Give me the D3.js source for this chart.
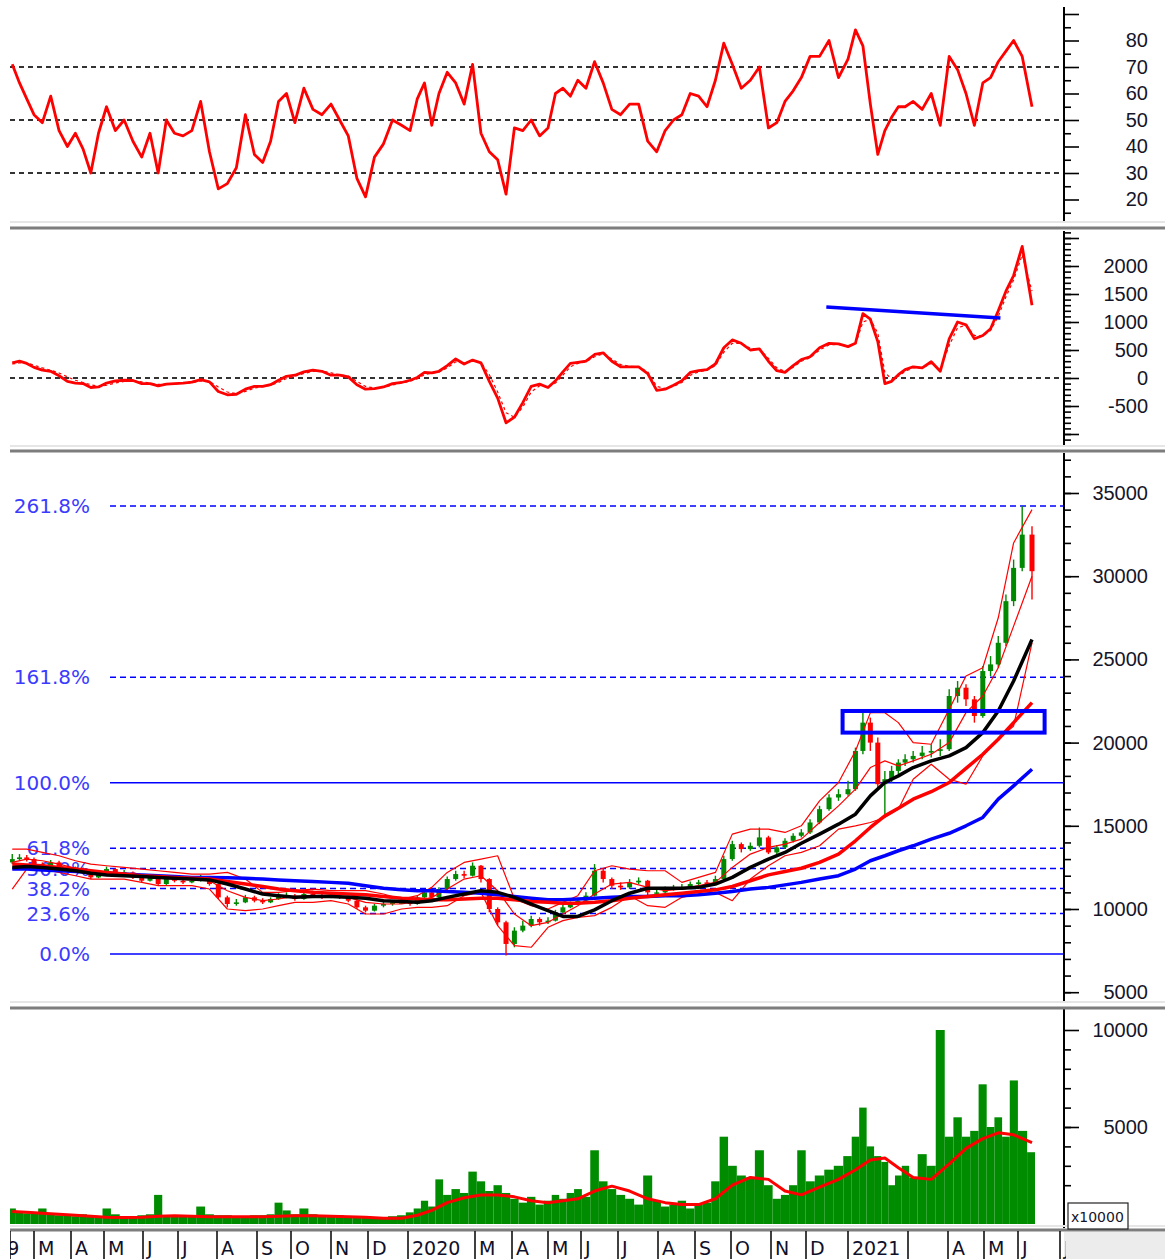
<!DOCTYPE html>
<html lang="vi">
<head>
  <meta charset="UTF-8">
  <title>RSI - MACD - Giá - Khối lượng</title>
  <script src="https://d3js.org/d3.v7.min.js"></script>
  <style>
    body { margin: 0; background: #fff; }
    svg { display: block; font-family: "DejaVu Sans", Arial, sans-serif; }
  </style>
</head>
<body>
  <div id="chart"></div>
  <script>
    // Số liệu theo tuần (thứ Sáu), từ 08/02/2019 đến 11/06/2021
    const rsi = [
      71, 64, 58, 52, 49, 59, 46, 40, 45, 39, 30, 45, 55, 46, 50, 42, 36, 45, 30, 50, 45, 44, 46, 57, 38,
      24, 26, 32, 52, 37, 34, 42, 57, 60, 49, 62, 54, 52, 56, 50, 44, 28, 21, 36, 41, 50, 48,
      // 2020
      46, 58, 64, 48, 60, 68, 64, 56, 71, 45, 38, 35, 22, 47, 46, 50, 44, 47, 60, 62, 59, 65, 62, 72, 64, 54,
      52, 56, 56, 42, 38, 46, 50, 52, 60, 59, 55, 65, 79, 71, 62, 65, 70, 47, 49, 57, 61, 66, 74, 74, 80, 66,
      // 2021
      73, 84, 78, 56, 37, 46, 51, 55, 55, 57, 54, 60, 48, 74, 69, 60, 48, 64, 66, 72, 76, 80, 74, 55
    ];
    const macd = [
      270, 300, 260, 190, 140, 120, 40, -60, -90, -100, -170, -160, -90, -50, -40, -45, -100, -100, -140, -110,
      -100, -90, -75, -30, -70, -240, -300, -290, -200, -150, -150, -120, -40, 30, 50, 110, 140, 120, 50, 50,
      20, -120, -200, -190, -160, -100, -80,
      // 2020
      -40, 10, 100, 90, 120, 220, 340, 250, 320, 270, -60, -360, -800, -700, -440, -150, -110, -170, -50, 110,
      260, 280, 300, 420, 450, 300, 200, 200, 200, 80, -220, -200, -130, -50, 100, 130, 150, 250, 540, 680,
      620, 500, 520, 300, 130, 100, 220, 330, 380, 540, 620, 610,
      // 2021
      560, 620, 1150, 1050, 650, -100, -60, 60, 150, 200, 180, 290, 120, 700, 1000, 950, 700, 760, 880, 1200,
      1550, 1830, 2350, 1300
    ];
    const macdSignal = [
      250, 270, 270, 230, 180, 140, 90, 20, -40, -80, -120, -150, -130, -90, -60, -50, -70, -90, -115, -115,
      -105, -95, -85, -55, -60, -160, -250, -280, -240, -180, -155, -130, -80, -10, 30, 80, 120, 125, 90, 60,
      35, -60, -150, -180, -170, -125, -90,
      // 2020
      -60, -15, 60, 85, 110, 180, 290, 270, 300, 280, 60, -250, -620, -700, -520, -250, -140, -160, -90, 50,
      200, 260, 290, 380, 430, 340, 240, 210, 200, 110, -150, -190, -150, -80, 50, 110, 140, 220, 460, 620,
      620, 530, 520, 350, 180, 120, 190, 300, 360, 500, 590, 600,
      // 2021
      570, 600, 1000, 1050, 800, 100, -20, 30, 120, 180, 180, 260, 160, 580, 900, 940, 760, 750, 850, 1100,
      1450, 1750, 2200, 1550
    ];
    const firstOpen = 12800;
    const closeP = [
      13000, 13100, 13000, 12700, 12500, 12800, 12500, 12300, 12400, 12200, 11900, 12200, 12400, 12100, 12200,
      11900, 11700, 11900, 11500, 11900, 11700, 11600, 11700, 11900, 11500, 10700, 10300, 10400, 10700, 10500,
      10400, 10600, 10800, 10800, 10600, 10900, 10800, 10700, 10800, 10700, 10500, 10100, 9900, 10200, 10300,
      10400, 10400,
      // 2020
      10300, 10700, 11000, 10700, 11200, 11800, 12100, 12000, 12600, 11800, 10000, 9200, 7900, 8700, 9000,
      9400, 9200, 9300, 9800, 10100, 10300, 10500, 10800, 12300, 11800, 11400, 11300, 11600, 11700, 11000,
      11000, 11200, 11300, 11300, 11500, 11600, 11500, 11800, 13000, 13900, 13600, 13800, 14300, 13400, 13700,
      14100, 14400, 14600, 15200, 16000, 16700, 16900,
      // 2021
      17200, 19500, 21200, 20000, 17500, 17800, 18300, 18800, 19000, 19200, 19400, 19500, 19600, 22800, 23300,
      22600, 21600, 24300, 24700, 26000, 28500, 30500, 32500, 30300
    ];
    const highP = [
      13300, 13300, 13250, 13100, 12800, 12950, 12900, 12600, 12550, 12500, 12300, 12300, 12550, 12450, 12350,
      12250, 12000, 12050, 12000, 12000, 12000, 11850, 11850, 12050, 11950, 11550, 10800, 10600, 10850, 10800,
      10650, 10700, 10950, 11000, 10900, 11050, 11100, 10900, 11000, 10950, 10800, 10600, 10200, 10300, 10450,
      10500, 10550,
      // 2020
      10500, 10800, 11150, 11100, 11300, 11950, 12300, 12300, 12800, 12650, 11850, 10100, 9300, 8900, 9300,
      9600, 9500, 9500, 9950, 10250, 10450, 10650, 11000, 12700, 12400, 11900, 11600, 11800, 11900, 11750,
      11200, 11350, 11450, 11500, 11650, 11750, 11750, 12000, 13200, 14100, 14000, 14000, 14900, 14400, 13850,
      14250, 14550, 14800, 15400, 16200, 16900, 17200,
      // 2021
      17700, 19700, 21800, 21500, 20300, 18300, 18600, 19000, 19300, 19500, 19800, 19900, 20200, 23200, 23700,
      23500, 22800, 24600, 25200, 26400, 28900, 31000, 34200, 33000
    ];
    const lowP = [
      12700, 12900, 12850, 12600, 12400, 12400, 12400, 12200, 12200, 12100, 11800, 11850, 12100, 12000, 12000,
      11800, 11600, 11650, 11400, 11450, 11600, 11500, 11550, 11650, 11400, 10600, 10100, 10200, 10350, 10400,
      10300, 10350, 10550, 10650, 10500, 10550, 10700, 10600, 10650, 10600, 10400, 10000, 9800, 9850, 10100,
      10200, 10300,
      // 2020
      10200, 10250, 10600, 10600, 10650, 11100, 11700, 11850, 11950, 11600, 9800, 9000, 7200, 7700, 8600,
      8900, 9000, 9100, 9250, 9750, 10050, 10250, 10450, 10750, 11600, 11200, 11150, 11200, 11500, 10800,
      10700, 10900, 11100, 11150, 11250, 11400, 11350, 11450, 11750, 12900, 13400, 13500, 13700, 13300, 13300,
      13600, 14000, 14300, 14500, 15100, 15900, 16500,
      // 2021
      16800, 17100, 19300, 19500, 17200, 15700, 17600, 18100, 18600, 18800, 19000, 19100, 19200, 19500, 22400,
      22200, 21200, 21500, 24000, 24500, 25800, 28200, 30300, 28600
    ];
    // khối lượng (x10000)
    const volume = [
      800, 650, 550, 600, 800, 500, 450, 450, 400, 500, 450, 400, 800, 500, 400, 400, 450, 500, 1500, 450,
      400, 400, 450, 900, 500, 450, 450, 400, 400, 450, 450, 500, 1100, 700, 500, 800, 500, 400, 450, 450,
      400, 400, 350, 350, 350, 400, 450,
      // 2020
      600, 800, 1200, 900, 2300, 1500, 1800, 1600, 2700, 2200, 1700, 2000, 1600, 1300, 1100, 1400, 1000, 1200,
      1500, 1300, 1600, 1800, 1400, 3800, 2200, 1800, 1500, 1300, 1000, 2500, 1200, 900, 1000, 1200, 800, 1000,
      1100, 2200, 4500, 3000, 2500, 2400, 3800, 2000, 1300, 1500, 2000, 3800, 2200, 2500, 2800, 3000,
      // 2021
      3500, 4500, 6000, 4000, 3500, 3200, 2000, 2500, 3000, 2400, 3600, 3000, 10000, 4500, 5500, 4500, 4800,
      7200, 5000, 5500, 4500, 7400, 4800, 3700
    ];

    // Các đường trung bình / dải, mỗi 2 tuần
    const bbUpper = [
      13600, 13600, 13400, 13200, 12900, 12700, 12600, 12500, 12400, 12300, 12200, 12100, 12100, 12200, 11800,
      11000, 11000, 11100, 11200, 11100, 11100, 11100, 10900, 10600, 10800, 11300, 12200, 12800, 13000, 13200,
      10600, 10200, 10000, 10400, 10800, 12300, 12600, 12400, 12300, 12300, 11600, 11900, 12200, 14500, 14800,
      14800, 14600, 15000, 16500, 17600, 19500, 21800, 21800, 21200, 20000, 19900, 22000, 24000, 24500, 27500,
      32000, 34000
    ];
    const bbMid = [
      12800, 13000, 12900, 12700, 12450, 12250, 12200, 12150, 12000, 11900, 11800, 11750, 11700, 11100, 10700,
      10500, 10600, 10750, 10800, 10800, 10700, 10400, 10300, 10300, 10450, 10700, 11200, 11800, 12000, 11100,
      9700, 9000, 9200, 9700, 10200, 10900, 11500, 11600, 11300, 11100, 11200, 11400, 11600, 12500, 13300,
      13700, 13900, 14200, 15200, 16200, 17200, 18500, 18900, 18600, 18900, 19300, 20000, 21800, 22800, 24500,
      27000, 30000
    ];
    const bbLower = [
      11200, 12400, 12400, 12200, 12000, 11800, 11800, 11800, 11600, 11400, 11400, 11400, 11200, 10000, 9900,
      10000, 10200, 10400, 10400, 10500, 10300, 9700, 9700, 10000, 10100, 10100, 10200, 10800, 11000, 9000,
      7800, 7700, 8900, 9300, 9500, 9600, 10100, 10800, 10200, 10100, 10700, 10900, 11000, 10500, 11800,
      12600, 13200, 13400, 13800, 14800, 15000, 15200, 15500, 16000, 17800, 18700, 17800, 17500, 19200, 20200,
      21000, 26000
    ];
    const maBlack = [
      12500, 12550, 12500, 12400, 12300, 12150, 12050, 12000, 11950, 11900, 11850, 11800, 11750, 11500, 11200,
      10900, 10800, 10700, 10750, 10750, 10700, 10650, 10500, 10450, 10400, 10500, 10700, 10900, 11100, 11000,
      10700, 10300, 9900, 9550, 9550, 9950, 10500, 10950, 11250, 11250, 11250, 11300, 11500, 11900, 12500,
      13000, 13400, 13950, 14500, 15100, 15700, 16800, 17600, 18000, 18500, 18900, 19200, 19700, 20600, 21900,
      23700, 26200
    ];
    const maRed = [
      12700, 12650, 12600, 12500, 12400, 12300, 12200, 12100, 12000, 11950, 11900, 11850, 11800, 11650, 11500,
      11350, 11200, 11100, 11000, 10950, 10900, 10850, 10750, 10650, 10600, 10550, 10550, 10600, 10650, 10650,
      10550, 10450, 10400, 10350, 10350, 10400, 10500, 10650, 10750, 10850, 10950, 11050, 11150, 11350, 11700,
      12050, 12250, 12450, 12800, 13300, 14100, 14900, 15600, 16050, 16600, 17050, 17600, 18450, 19300, 20200,
      21200, 22400
    ];
    const maBlue = [
      12400, 12400, 12350, 12300, 12250, 12200, 12150, 12100, 12050, 12000, 11950, 11900, 11900, 11880, 11850,
      11800, 11750, 11700, 11650, 11600, 11550, 11400, 11250, 11150, 11100, 11100, 11050, 11000, 10950, 10850,
      10750, 10650, 10550, 10550, 10600, 10650, 10700, 10750, 10750, 10800, 10800, 10850, 10950, 11050, 11200,
      11300, 11450, 11600, 11800, 12000, 12400, 12900, 13200, 13500, 13800, 14200, 14550, 15000, 15500, 16600,
      17400, 18400
    ];
    const volMA = [
      650, 600, 550, 500, 450, 400, 350, 330, 350, 400, 420, 400, 380, 380, 380, 380, 400, 420, 420, 400,
      380, 350, 300, 300, 450, 700, 1100, 1350, 1500, 1500, 1400, 1200, 1100, 1200, 1300, 1700, 1950, 1700,
      1300, 1100, 1000, 1000, 1300, 2000, 2400, 2300, 1700, 1500, 1900, 2300, 2800, 3300, 3400, 2900, 2400,
      2300, 3100, 3900, 4400, 4700, 4600, 4200
    ];

    const rsiLevels = [70, 50, 30];
    const fibLevels = [0, 23.6, 38.2, 50, 61.8, 100, 161.8, 261.8];
    const fibLow = 7300, fibHigh = 17580;
    const macdTrend = [["2020-12-16", 1270], ["2021-05-16", 1070]];
    const zone = {from: "2020-12-28", to: "2021-06-20", top: 21900, bottom: 20600};

    const monthTicks = [
      ["2019-01-01", "2019"], ["2019-03-01", "M"], ["2019-04-01", "A"], ["2019-05-01", "M"], ["2019-06-01", "J"],
      ["2019-07-01", "J"], ["2019-08-01", "A"], ["2019-09-01", "S"], ["2019-10-01", "O"], ["2019-11-01", "N"],
      ["2019-12-01", "D"], ["2020-01-01", "2020"], ["2020-03-01", "M"], ["2020-04-01", "A"], ["2020-05-01", "M"],
      ["2020-06-01", "J"], ["2020-07-01", "J"], ["2020-08-01", "A"], ["2020-09-01", "S"], ["2020-10-01", "O"],
      ["2020-11-01", "N"], ["2020-12-01", "D"], ["2021-01-01", "2021"], ["2021-03-01", ""], ["2021-04-01", "A"],
      ["2021-05-01", "M"], ["2021-06-01", "J"], ["2021-07-01", "J"]
    ];

    // ---- bố cục ----
    const W = 1165, H = 1259;
    const axisX = 1064, plotLeft = 10;
    const parse = d3.timeParse("%Y-%m-%d");

    // trục thời gian theo ngày giao dịch: mỗi tháng có độ rộng khác nhau
    const monthStarts = [
      "2019-01-01", "2019-02-01", "2019-03-01", "2019-04-01", "2019-05-01", "2019-06-01", "2019-07-01",
      "2019-08-01", "2019-09-01", "2019-10-01", "2019-11-01", "2019-12-01", "2020-01-01", "2020-02-01",
      "2020-03-01", "2020-04-01", "2020-05-01", "2020-06-01", "2020-07-01", "2020-08-01", "2020-09-01",
      "2020-10-01", "2020-11-01", "2020-12-01", "2021-01-01", "2021-02-01", "2021-03-01", "2021-04-01",
      "2021-05-01", "2021-06-01", "2021-07-01"
    ];
    const monthPx = [-33, 5, 34, 71, 104, 143, 178, 217, 257, 291, 331, 368, 408, 440, 475, 512, 548, 581,
                     618, 658, 695, 731, 771, 806, 848, 881, 908, 948, 984, 1018, 1060];
    const x = d3.scaleTime().domain(monthStarts.map(parse)).range(monthPx);

    const weeks = rsi.map((d, i) => d3.timeDay.offset(new Date(2019, 1, 8), 7 * i));
    const biweeks = weeks.filter((d, i) => i % 2 === 0);

    const yRsi = d3.scaleLinear().domain([50, 70]).range([120, 67]);
    const yMacd = d3.scaleLinear().domain([0, 2000]).range([378, 266]);
    const yPrice = d3.scaleLinear().domain([10000, 35000]).range([909, 493]);
    const yVol = d3.scaleLinear().domain([0, 10000]).range([1224, 1030]);

    const svg = d3.select("#chart").append("svg")
      .attr("width", W).attr("height", H)
      .style("background", "#fff");
    const defs = svg.append("defs");

    function panel(id, top, bottom) {
      defs.append("clipPath").attr("id", id).append("rect")
        .attr("x", plotLeft).attr("y", top)
        .attr("width", axisX - plotLeft).attr("height", bottom - top);
      return svg.append("g").attr("clip-path", `url(#${id})`);
    }

    function rightAxis(y, majors, labels, minors, top, bottom) {
      const g = svg.append("g").attr("transform", `translate(${axisX},0)`);
      g.append("line").attr("y1", top).attr("y2", bottom)
        .attr("stroke", "#000").attr("stroke-width", 2);
      g.append("g")
        .call(d3.axisRight(y).tickValues(minors).tickSize(7).tickFormat(""))
        .call(a => a.select(".domain").remove());
      g.append("g")
        .call(d3.axisRight(y).tickValues(majors).tickSize(15)
          .tickFormat(d => labels.includes(d) ? String(d) : ""))
        .call(a => a.select(".domain").remove())
        .call(a => a.selectAll("text")
          .attr("x", 84).attr("text-anchor", "end")
          .style("font-size", "20px").style("fill", "#15152a"));
      g.selectAll(".tick line").attr("stroke", "#000").attr("stroke-width", 1.6);
    }

    function levelLine(g, yv, color, width, dash) {
      g.append("line")
        .attr("x1", plotLeft).attr("x2", axisX).attr("y1", yv).attr("y2", yv)
        .attr("stroke", color).attr("stroke-width", width)
        .attr("stroke-dasharray", dash);
    }

    function series(g, values, dates, y, color, width, dash) {
      g.append("path")
        .datum(values)
        .attr("fill", "none")
        .attr("stroke", color)
        .attr("stroke-width", width)
        .attr("stroke-linejoin", "round")
        .attr("stroke-dasharray", dash || null)
        .attr("d", d3.line().x((d, i) => x(dates[i])).y(d => y(d)));
    }

    // ---- RSI ----
    const gRsi = panel("clip-rsi", 6, 221);
    rsiLevels.forEach(v => levelLine(gRsi, yRsi(v), "#333", 2, "5,4"));
    series(gRsi, rsi, weeks, yRsi, "#ff0000", 2.8);
    rightAxis(yRsi, d3.range(20, 91, 10), d3.range(20, 81, 10), d3.range(15, 90, 10), 7, 221);

    // ---- MACD ----
    const gMacd = panel("clip-macd", 231, 446);
    levelLine(gMacd, yMacd(0), "#333", 2, "5,4");
    series(gMacd, macdSignal, weeks, yMacd, "#ff0000", 1.2, "3,3");
    series(gMacd, macd, weeks, yMacd, "#ff0000", 2.8);
    gMacd.append("line")
      .attr("x1", x(parse(macdTrend[0][0]))).attr("y1", yMacd(macdTrend[0][1]))
      .attr("x2", x(parse(macdTrend[1][0]))).attr("y2", yMacd(macdTrend[1][1]))
      .attr("stroke", "#0000ff").attr("stroke-width", 3.5);
    rightAxis(yMacd, d3.range(-1000, 2501, 500), [-500, 0, 500, 1000, 1500, 2000],
      d3.range(-1100, 2601, 100), 231, 445);

    // ---- Giá ----
    const gPrice = panel("clip-price", 453, 1001);
    fibLevels.forEach(lv => {
      const yv = yPrice(fibLow + (fibHigh - fibLow) * lv / 100);
      const solid = lv === 0 || lv === 100;
      gPrice.append("line")
        .attr("x1", 110).attr("x2", axisX).attr("y1", yv).attr("y2", yv)
        .attr("stroke", "#0000ff").attr("stroke-width", 1.5)
        .attr("stroke-dasharray", solid ? null : "6,4");
      gPrice.append("text")
        .attr("x", 90).attr("y", yv).attr("dy", "0.36em")
        .attr("text-anchor", "end")
        .style("font-size", "20px").style("fill", "#3b3bff")
        .text(lv.toFixed(1) + "%");
    });

    const candles = closeP.map((c, i) => ({
      date: weeks[i], open: i ? closeP[i - 1] : firstOpen, close: c, high: highP[i], low: lowP[i]
    }));
    const cg = gPrice.append("g");
    cg.selectAll("line").data(candles).join("line")
      .attr("x1", d => x(d.date)).attr("x2", d => x(d.date))
      .attr("y1", d => yPrice(d.high)).attr("y2", d => yPrice(d.low))
      .attr("stroke", d => d.close >= d.open ? "#008800" : "#ff0000")
      .attr("stroke-width", 1.4);
    cg.selectAll("rect").data(candles).join("rect")
      .attr("x", d => x(d.date) - 2.5)
      .attr("width", 5)
      .attr("y", d => yPrice(Math.max(d.open, d.close)))
      .attr("height", d => Math.max(1.5, Math.abs(yPrice(d.open) - yPrice(d.close))))
      .attr("fill", d => d.close >= d.open ? "#008800" : "#ff0000");

    series(gPrice, bbUpper, biweeks, yPrice, "#ff0000", 1.2);
    series(gPrice, bbMid, biweeks, yPrice, "#ff0000", 1.2);
    series(gPrice, bbLower, biweeks, yPrice, "#ff0000", 1.2);
    series(gPrice, maBlue, biweeks, yPrice, "#0000ff", 3.5);
    series(gPrice, maRed, biweeks, yPrice, "#ff0000", 3.5);
    series(gPrice, maBlack, biweeks, yPrice, "#000000", 3.5);

    gPrice.append("rect")
      .attr("x", x(parse(zone.from)))
      .attr("y", yPrice(zone.top))
      .attr("width", x(parse(zone.to)) - x(parse(zone.from)))
      .attr("height", yPrice(zone.bottom) - yPrice(zone.top))
      .attr("fill", "none").attr("stroke", "#0000ff").attr("stroke-width", 4);

    rightAxis(yPrice, d3.range(5000, 35001, 5000), d3.range(5000, 35001, 5000),
      d3.range(5000, 37001, 1000), 453, 1001);

    // ---- Khối lượng ----
    const gVol = panel("clip-vol", 1009, 1225);
    const xs = weeks.map(d => x(d));
    gVol.selectAll("rect").data(volume).join("rect")
      .attr("x", (d, i) => i ? (xs[i - 1] + xs[i]) / 2 : xs[i] - 4)
      .attr("width", (d, i) => {
        const l = i ? (xs[i - 1] + xs[i]) / 2 : xs[i] - 4;
        const r = i < xs.length - 1 ? (xs[i] + xs[i + 1]) / 2 : xs[i] + 3;
        return r - l;
      })
      .attr("y", d => yVol(d))
      .attr("height", d => yVol(0) - yVol(d))
      .attr("fill", "#008c00");
    series(gVol, volMA, biweeks, yVol, "#ff0000", 3);
    rightAxis(yVol, [5000, 10000], [5000, 10000], d3.range(2000, 10000, 1000), 1009, 1228);

    // ---- đường phân cách các khung ----
    [[222, 228], [446, 451], [1002, 1008], [1226, 1230]].forEach(([a, b]) => {
      svg.append("line").attr("x1", plotLeft).attr("x2", W).attr("y1", a).attr("y2", a)
        .attr("stroke", "#e6e6e6").attr("stroke-width", 2);
      svg.append("line").attr("x1", plotLeft).attr("x2", W).attr("y1", b).attr("y2", b)
        .attr("stroke", "#7d7d7d").attr("stroke-width", 3);
    });

    // ô "x10000"
    svg.append("rect").attr("x", axisX).attr("y", 1232).attr("width", W - axisX).attr("height", H - 1232)
      .attr("fill", "#ececec");
    svg.append("rect").attr("x", 1068).attr("y", 1203).attr("width", 60).attr("height", 26)
      .attr("fill", "#fff").attr("stroke", "#222").attr("stroke-width", 1.2);
    svg.append("text").attr("x", 1071).attr("y", 1222)
      .style("font-size", "14px").style("fill", "#15152a").text("x10000");

    // ---- trục tháng ở dưới ----
    defs.append("clipPath").attr("id", "clip-axis").append("rect")
      .attr("x", plotLeft).attr("y", 1230).attr("width", axisX - plotLeft + 2).attr("height", 30);
    const gAxis = svg.append("g").attr("clip-path", "url(#clip-axis)");
    gAxis.append("line").attr("x1", plotLeft).attr("x2", plotLeft).attr("y1", 1231).attr("y2", H)
      .attr("stroke", "#000").attr("stroke-width", 1.5);
    const ticks = gAxis.selectAll("g.mt").data(monthTicks).join("g")
      .attr("class", "mt")
      .attr("transform", d => `translate(${x(parse(d[0]))},0)`);
    ticks.append("line").attr("y1", 1231).attr("y2", H)
      .attr("stroke", "#000").attr("stroke-width", 1.5);
    ticks.append("text").attr("x", 4).attr("y", 1255)
      .style("font-size", "19px").style("fill", "#10102a")
      .text(d => d[1]);
  </script>
</body>
</html>
